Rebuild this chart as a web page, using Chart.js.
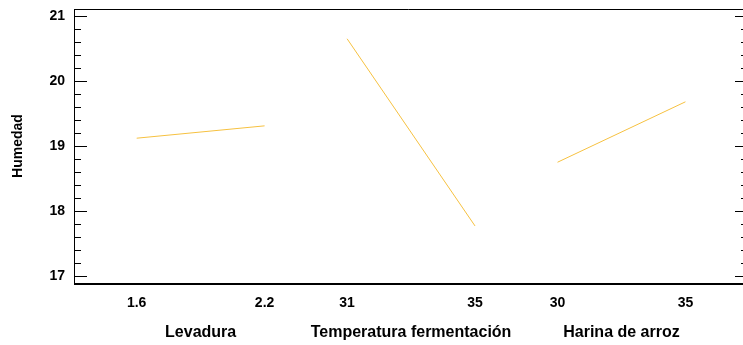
<!DOCTYPE html>
<html>
<head>
<meta charset="utf-8">
<script src="https://cdn.jsdelivr.net/npm/chart.js@4/dist/chart.umd.min.js"></script>
<style>
  body { margin: 0; background: #fff; }
  #wrap { width: 743px; height: 345px; }
</style>
</head>
<body>
<div id="wrap"><canvas id="effects-chart"></canvas></div>
<script>
// main effects for Humedad
const factors = ["Levadura", "Temperatura fermentación", "Harina de arroz"];
const levelLabels = [["1.6", "2.2"], ["31", "35"], ["30", "35"]];
const humedad = [[19.12, 19.31], [20.65, 17.77], [18.75, 19.68]];
const yTicks = [17, 18, 19, 20, 21];

// each factor gets a low/high pair on the x axis, one unit apart
const levelPos = factors.map((f, k) => [0.49 + k * 1.645, 1.49 + k * 1.645]);
const flatPos = levelPos.flat();
const flatLabels = levelLabels.flat();

const datasets = factors.map((f, k) => ({
    label: f,
    data: levelPos[k].map((x, i) => ({ x: x, y: humedad[k][i] })),
    borderColor: "#f6c140",
    borderWidth: 1,
    pointRadius: 0,
    fill: false
}));

// frame, inside tick marks and factor names under the axis
const framePlugin = {
    id: "frame",
    afterDraw(chart) {
        const ctx = chart.ctx;
        const a = chart.chartArea;
        const y = chart.scales.y;
        ctx.save();
        ctx.strokeStyle = "#000";
        ctx.lineWidth = 1;
        ctx.beginPath();
        ctx.moveTo(a.left + 0.5, a.top + 0.5);
        ctx.lineTo(a.right, a.top + 0.5);
        ctx.moveTo(a.left + 0.5, a.top);
        ctx.lineTo(a.left + 0.5, a.bottom);
        ctx.stroke();
        ctx.lineWidth = 2;
        ctx.beginPath();
        ctx.moveTo(a.left, a.bottom + 1);
        ctx.lineTo(a.right, a.bottom + 1);
        ctx.stroke();

        ctx.lineWidth = 1;
        ctx.beginPath();
        for (let v = yTicks[0]; v <= yTicks[yTicks.length - 1] + 1e-6; v += 0.2) {
            const major = Math.abs(v - Math.round(v)) < 1e-6;
            const py = Math.round(y.getPixelForValue(v)) + 0.5;
            ctx.moveTo(a.left, py);
            ctx.lineTo(a.left + (major ? 13 : 7), py);
            ctx.moveTo(a.right, py);
            ctx.lineTo(a.right - (major ? 8 : 2), py);
        }
        ctx.stroke();

        const x = chart.scales.x;
        ctx.fillStyle = "#000";
        ctx.font = "bold 16px 'Liberation Sans', Arial, sans-serif";
        ctx.textAlign = "center";
        ctx.textBaseline = "middle";
        factors.forEach((f, k) => {
            const cx = (x.getPixelForValue(levelPos[k][0]) + x.getPixelForValue(levelPos[k][1])) / 2;
            ctx.fillText(f, cx, a.bottom + 50);
        });
        ctx.restore();
    }
};

const chart = new Chart(document.getElementById("effects-chart"), {
    type: "line",
    data: { datasets: datasets },
    plugins: [framePlugin],
    options: {
        responsive: true,
        maintainAspectRatio: false,
        animation: false,
        layout: { padding: { top: 9, right: 0, left: 0, bottom: 0 } },
        plugins: {
            legend: { display: false },
            tooltip: { enabled: false }
        },
        scales: {
            x: {
                type: "linear",
                min: 0,
                max: 5.23,
                grid: { display: false, drawTicks: false },
                border: { display: false },
                afterBuildTicks(scale) {
                    scale.ticks = flatPos.map(v => ({ value: v }));
                },
                afterFit(scale) {
                    scale.height = 62;
                    scale.paddingLeft = 0;
                    scale.paddingRight = 0;
                },
                ticks: {
                    autoSkip: false,
                    maxRotation: 0,
                    padding: 12,
                    color: "#000",
                    font: { family: "'Liberation Sans', Arial, sans-serif", size: 14, weight: "bold" },
                    callback: (value, index) => flatLabels[index]
                }
            },
            y: {
                min: 16.892,
                max: 21.108,
                grid: { display: false, drawTicks: false },
                border: { display: false },
                afterBuildTicks(scale) {
                    scale.ticks = yTicks.map(v => ({ value: v }));
                },
                afterFit(scale) {
                    scale.width = 74;
                    scale.paddingTop = 0;
                    scale.paddingBottom = 0;
                },
                ticks: {
                    padding: 9,
                    color: "#000",
                    font: { family: "'Liberation Sans', Arial, sans-serif", size: 14, weight: "bold" }
                },
                title: {
                    display: true,
                    text: "Humedad",
                    color: "#000",
                    padding: { top: 10, bottom: 0 },
                    font: { family: "'Liberation Sans', Arial, sans-serif", size: 14, weight: "bold" }
                }
            }
        }
    }
});
</script>
</body>
</html>
